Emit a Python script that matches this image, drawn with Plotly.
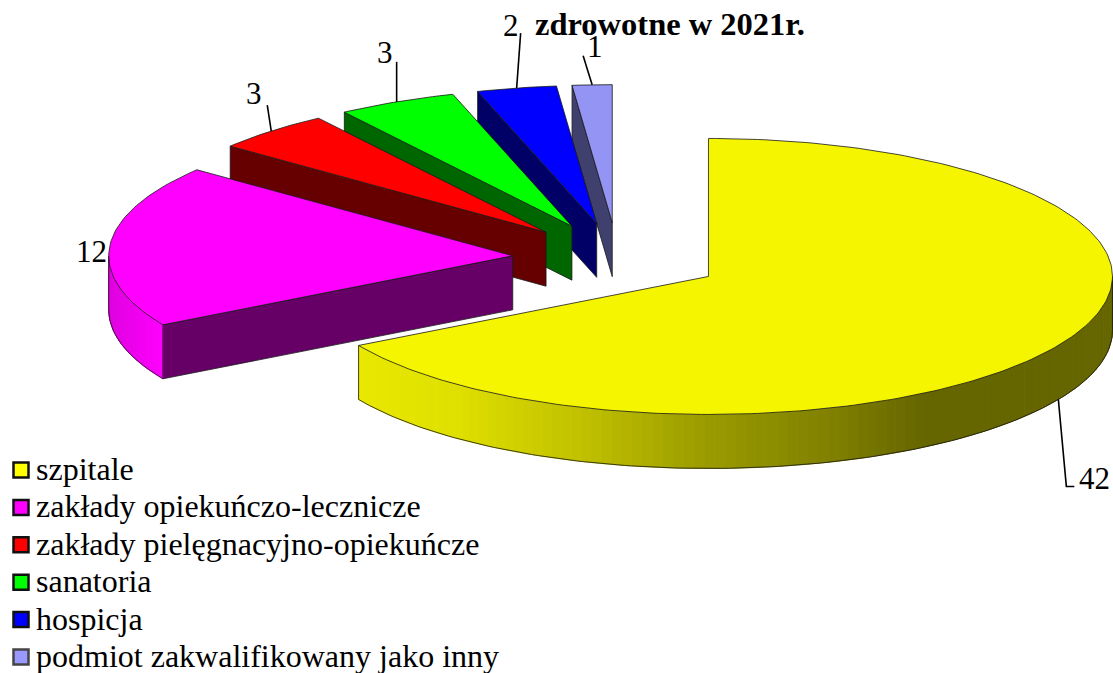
import math
import plotly.graph_objects as go

categories = ["szpitale", "zakłady opiekuńczo-lecznicze", "zakłady pielęgnacyjno-opiekuńcze",
              "sanatoria", "hospicja", "podmiot zakwalifikowany jako inny"]
values = [42, 12, 3, 3, 2, 1]
title_text = "zdrowotne w 2021r."

top_colors = ["#f5f500", "#ff00ff", "#ff0000", "#00ff00", "#0000ff", "#9494f5"]
edge_colors = ["#666600", "#660066", "#660000", "#006600", "#000066", "#40406e"]
swatch_colors = ["#ffff00", "#ff00ff", "#ff0000", "#00ff00", "#0000ff", "#9999ff"]

# Pie projection, in page pixels
W, H = 1113, 673
CX, CY, RX, RY, DEPTH, EXPLODE = 617.5, 258.5, 404, 138, 54, 0.26
OUTLINE = "rgba(25,25,25,0.8)"
FONT = "Liberation Serif"

total = sum(values)
spans = []
a = 0.0
for v in values:
    spans.append((a, a + 360.0 * v / total))
    a += 360.0 * v / total


def project(cx, cy, deg):
    r = math.radians(deg)
    return cx + RX * math.sin(r), cy - RY * math.cos(r)


def arc(cx, cy, a0, a1, step=1.0):
    n = max(2, int(abs(a1 - a0) / step) + 1)
    return [project(cx, cy, a0 + (a1 - a0) * i / (n - 1)) for i in range(n)]


def lerp_stops(x, stops):
    if x <= stops[0][0]:
        return stops[0][1]
    for (x0, c0), (x1, c1) in zip(stops, stops[1:]):
        if x <= x1:
            t = (x - x0) / (x1 - x0)
            return tuple(c0[i] + (c1[i] - c0[i]) * t for i in range(3))
    return stops[-1][1]


side_stops = {
    0: [(358, (232, 232, 0)), (453, (224, 224, 0)), (586, (191, 191, 0)), (709, (154, 154, 0)),
        (833, (128, 128, 0)), (921, (102, 102, 0)), (1113, (102, 102, 0))],
    1: [(108, (222, 0, 222)), (162, (255, 0, 255))],
}

fig = go.Figure()


def poly(pts, fill, line=None, width=1):
    xs = [p[0] for p in pts] + [pts[0][0]]
    ys = [p[1] for p in pts] + [pts[0][1]]
    fig.add_trace(go.Scatter(x=xs, y=ys, mode="lines", fill="toself", fillcolor=fill,
                             line=dict(color=line or fill, width=width),
                             showlegend=False, hoverinfo="skip"))


def path(pts, color=OUTLINE, width=1.0):
    fig.add_trace(go.Scatter(x=[p[0] for p in pts], y=[p[1] for p in pts], mode="lines",
                             line=dict(color=color, width=width), showlegend=False, hoverinfo="skip"))


centers = []
for (a0, a1) in spans:
    mid = math.radians((a0 + a1) / 2)
    centers.append((CX + EXPLODE * RX * math.sin(mid), CY - EXPLODE * RY * math.cos(mid)))

# Back slices are painted first
for i in [5, 4, 3, 2, 1, 0]:
    a0, a1 = spans[i]
    cx, cy = centers[i]
    # cut face on the slice's starting edge
    if i > 0:
        s = project(cx, cy, a0)
        face = [s, (cx, cy), (cx, cy + DEPTH), (s[0], s[1] + DEPTH)]
        poly(face, edge_colors[i], OUTLINE)
    # outer rim, shaded in narrow strips
    lo, hi = max(a0, 90.0), min(a1, 270.0)
    if hi > lo:
        n = int((hi - lo) / 1.5) + 1
        for k in range(n):
            b0 = lo + (hi - lo) * k / n
            b1 = lo + (hi - lo) * (k + 1) / n
            seg = arc(cx, cy, b0, b1, 0.5)
            xm = (seg[0][0] + seg[-1][0]) / 2
            c = lerp_stops(xm, sorted(side_stops[i], key=lambda t: t[0]))
            col = "rgb(%d,%d,%d)" % tuple(round(v) for v in c)
            poly(seg + [(p[0], p[1] + DEPTH) for p in reversed(seg)], col, col, 1)
        rim = arc(cx, cy, lo, hi)
        path([(p[0], p[1] + DEPTH) for p in rim])
        path([rim[0], (rim[0][0], rim[0][1] + DEPTH)])
        path([rim[-1], (rim[-1][0], rim[-1][1] + DEPTH)])
    # top surface
    poly([(cx, cy)] + arc(cx, cy, a0, a1), top_colors[i], OUTLINE)

# Data labels: text position and the leader offsets from the rim anchor
label_layout = {
    0: dict(text_xy=(1094, 478), leader=[(8, 87), (16, 87)]),
    1: dict(text_xy=(91, 251), leader=None),
    2: dict(text_xy=(254, 93), leader=[(-4, -26)]),
    3: dict(text_xy=(385, 52), leader=[(0, -40)]),
    4: dict(text_xy=(511, 25), leader=[(4, -55)]),
    5: dict(text_xy=(595, 46), leader=[(-9, -29)]),
}
annotations = []
for i, v in enumerate(values):
    a0, a1 = spans[i]
    ax, ay = project(*centers[i], (a0 + a1) / 2)
    if i == 0:
        ay += DEPTH
    info = label_layout[i]
    if info["leader"]:
        path([(ax, ay)] + [(ax + dx, ay + dy) for dx, dy in info["leader"]], "#000000", 1.6)
    annotations.append(dict(x=info["text_xy"][0], y=info["text_xy"][1], text=str(v), showarrow=False,
                            xanchor="center", yanchor="middle",
                            font=dict(family=FONT, size=31, color="#000000")))

annotations.append(dict(x=670, y=24, text="<b>%s</b>" % title_text, showarrow=False,
                        xanchor="center", yanchor="middle",
                        font=dict(family=FONT, size=32.5, color="#000000")))

# Legend keys and their labels
legend_y0, legend_dy = 470, 37.4
for i, name in enumerate(categories):
    y = legend_y0 + i * legend_dy
    fig.add_trace(go.Scatter(
        x=[21], y=[y], mode="markers",
        marker=dict(symbol="square", size=15, color=swatch_colors[i],
                    line=dict(color="#111111" if i < 5 else "#444444", width=2.5)),
        name=name, showlegend=False, hoverinfo="skip"))
    annotations.append(dict(x=34, y=y - 1, text=name, showarrow=False, xanchor="left", yanchor="middle",
                            font=dict(family=FONT, size=32, color="#000000")))

fig.update_layout(
    width=W, height=H, margin=dict(l=0, r=0, t=0, b=0),
    paper_bgcolor="#ffffff", plot_bgcolor="#ffffff",
    xaxis=dict(range=[0, W], visible=False, fixedrange=True),
    yaxis=dict(range=[H, 0], visible=False, fixedrange=True),
    annotations=annotations, showlegend=False,
)
fig.write_html("out.html", config={"displayModeBar": False},
               post_script="document.body.style.margin='0';")
